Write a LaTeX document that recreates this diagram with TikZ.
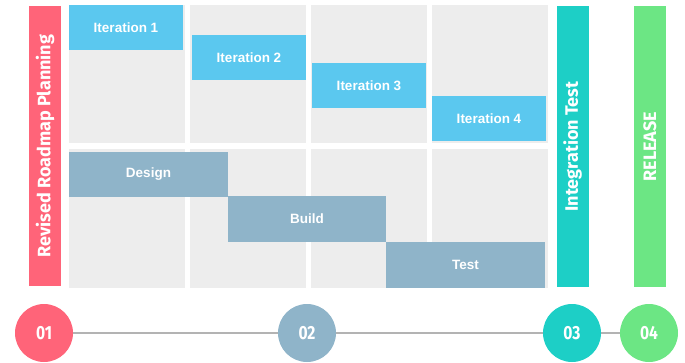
\documentclass[tikz,border=0pt]{standalone}
\usepackage{fontspec}
\setmainfont{Liberation Sans}
\newfontfamily\barfont{Fira Sans}
\newfontfamily\numfont[FakeStretch=0.82]{Fira Sans}

\definecolor{planred}{HTML}{FF6479}
\definecolor{iterblue}{HTML}{5BC8EF}
\definecolor{phasesteel}{HTML}{8FB4C9}
\definecolor{testteal}{HTML}{1DCFC6}
\definecolor{releasegreen}{HTML}{6CE684}
\definecolor{cellgray}{HTML}{EDEDED}
\definecolor{linegray}{HTML}{B3B3B3}

\begin{document}
\begin{tikzpicture}[x=1pt,y=-1pt,
    cell/.style={fill=cellgray,anchor=north west,inner sep=0pt,outer sep=0pt,
      minimum width=116pt,minimum height=138pt},
    iter/.style={fill=iterblue,text=white,anchor=north west,inner sep=0pt,outer sep=0pt,
      font=\bfseries\fontsize{13.5}{16}\selectfont,minimum width=114pt,minimum height=45pt},
    phase/.style={fill=phasesteel,text=white,anchor=north west,inner sep=0pt,outer sep=0pt,
      font=\bfseries\fontsize{13.5}{16}\selectfont,minimum width=159pt,minimum height=45pt},
    vbar/.style={rotate=90,text=white,inner sep=0pt,outer sep=0pt,
      font=\barfont\bfseries\fontsize{18}{21}\selectfont,minimum width=280pt,minimum height=32pt},
    stage/.style={circle,text=white,inner sep=0pt,minimum size=58pt,
      font=\numfont\bfseries\fontsize{19}{22}\selectfont}]
  \useasboundingbox (0,0) rectangle (685,362);

  % grey grid, two rows of four
  \foreach \cx [count=\i] in {69,190,311,432} {
    \node[cell] (top\i) at (\cx,5) {};
    \node[cell,minimum height=139pt] (bot\i) at (\cx,149) {};
  }

  % iterations
  \node[iter] (it1) at (69,5) {Iteration 1};
  \node[iter] (it2) at (192,35) {Iteration 2};
  \node[iter] (it3) at (312,63) {Iteration 3};
  \node[iter] (it4) at (432,96) {Iteration 4};

  % phases
  \node[phase] (design) at (69,152) {Design};
  \node[phase,minimum width=158pt,minimum height=46pt] (build) at (228,196) {Build};
  \node[phase,minimum height=46pt] (test) at (386,242) {Test};

  % vertical bars
  \node[vbar,fill=planred] (plan) at (45,146) {Revised Roadmap Planning};
  \node[vbar,fill=testteal,minimum width=281pt] (integ) at (572.5,146.5) {Integration Test};
  \node[vbar,fill=releasegreen,minimum width=281pt] (release) at (650,146.5) {RELEASE};

  % timeline
  \node[stage,fill=planred] (s1) at (44,333) {01};
  \node[stage,fill=phasesteel] (s2) at (307,333) {02};
  \node[stage,fill=testteal] (s3) at (572,333) {03};
  \node[stage,fill=releasegreen] (s4) at (649,333) {04};
  \draw[linegray,line width=1.5pt] (s1) -- (s2) (s2) -- (s3) (s3) -- (s4);
\end{tikzpicture}
\end{document}
